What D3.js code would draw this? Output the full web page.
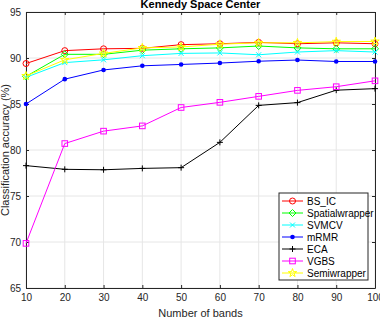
<!DOCTYPE html>
<html>
<head>
<meta charset="utf-8">
<script src="https://cdn.jsdelivr.net/npm/d3@7"></script>
<style>
  body { margin: 0; background: #fff; }
  svg { display: block; font-family: "Liberation Sans", Arial, sans-serif; }
</style>
</head>
<body>
<svg width="380" height="320"></svg>
<script>
    // bands on x axis
    const bands = [10, 20, 30, 40, 50, 60, 70, 80, 90, 100];

    const bsIC = [89.4, 90.8, 91.0, 91.05, 91.45, 91.55, 91.7, 91.55, 91.65, 91.55];
    const spatialwrapper = [88.0, 90.4, 90.4, 90.85, 91.0, 91.1, 91.3, 91.1, 91.0, 91.0];
    const svmcv = [87.9, 89.5, 89.8, 90.25, 90.5, 90.55, 90.35, 90.65, 90.8, 90.65];
    const mrmr = [85.0, 87.7, 88.7, 89.15, 89.3, 89.45, 89.65, 89.78, 89.62, 89.62];
    const eca = [78.3, 77.9, 77.85, 78.0, 78.08, 80.83, 84.85, 85.15, 86.5, 86.67];
    const vgbs = [69.85, 80.7, 82.05, 82.62, 84.62, 85.18, 85.83, 86.48, 86.88, 87.52];
    const semiwrapper = [88.05, 89.8, 90.5, 91.1, 91.2, 91.5, 91.65, 91.65, 91.78, 91.8];

    const xTicks = [10, 20, 30, 40, 50, 60, 70, 80, 90, 100];
    const yTicks = [65, 70, 75, 80, 85, 90, 95];

    const series = [
        { name: 'BS_IC', values: bsIC, color: '#ff0000', marker: 'circle' },
        { name: 'Spatialwrapper', values: spatialwrapper, color: '#00ff00', marker: 'diamond' },
        { name: 'SVMCV', values: svmcv, color: '#00ffff', marker: 'x' },
        { name: 'mRMR', values: mrmr, color: '#0000ff', marker: 'dot' },
        { name: 'ECA', values: eca, color: '#000000', marker: 'plus' },
        { name: 'VGBS', values: vgbs, color: '#ff00ff', marker: 'square' },
        { name: 'Semiwrapper', values: semiwrapper, color: '#ffff00', marker: 'star' }
    ];

    const margin = { top: 12, right: 5, bottom: 32, left: 26 };
    const width = 380, height = 320;

    const svg = d3.select('svg');

    const x = d3.scaleLinear().domain([10, 100]).range([margin.left, width - margin.right]);
    const y = d3.scaleLinear().domain([65, 95]).range([height - margin.bottom, margin.top]);

    // grid
    const grid = svg.append('g').attr('stroke', '#e6e6e6').attr('stroke-width', 1);
    grid.selectAll('.gx').data(xTicks).enter().append('line')
        .attr('x1', d => x(d)).attr('x2', d => x(d))
        .attr('y1', y(65)).attr('y2', y(95));
    grid.selectAll('.gy').data(yTicks).enter().append('line')
        .attr('x1', x(10)).attr('x2', x(100))
        .attr('y1', d => y(d)).attr('y2', d => y(d));

    // axes
    const axisColor = '#262626';
    const styleAxis = g => {
        g.select('.domain').attr('stroke', axisColor);
        g.selectAll('.tick line').attr('stroke', axisColor);
        g.selectAll('.tick text').attr('fill', '#262626').style('font-size', '10px');
    };

    svg.append('g')
        .attr('transform', 'translate(0,' + y(65) + ')')
        .call(d3.axisBottom(x).tickValues(xTicks).tickSize(-3).tickSizeOuter(0).tickPadding(6))
        .call(styleAxis);
    svg.append('g')
        .attr('transform', 'translate(0,' + y(95) + ')')
        .call(d3.axisTop(x).tickValues(xTicks).tickSize(-3).tickSizeOuter(0).tickFormat(''))
        .call(styleAxis);
    svg.append('g')
        .attr('transform', 'translate(' + x(10) + ',0)')
        .call(d3.axisLeft(y).tickValues(yTicks).tickSize(-3).tickSizeOuter(0).tickPadding(5))
        .call(styleAxis);
    svg.append('g')
        .attr('transform', 'translate(' + x(100) + ',0)')
        .call(d3.axisRight(y).tickValues(yTicks).tickSize(-3).tickSizeOuter(0).tickFormat(''))
        .call(styleAxis);

    const drawMarker = (g, type, color) => {
        if (type === 'circle') {
            g.append('circle').attr('r', 3).attr('fill', 'none').attr('stroke', color);
        } else if (type === 'diamond') {
            g.append('path').attr('d', 'M0,-3.5L3.5,0L0,3.5L-3.5,0Z').attr('fill', 'none').attr('stroke', color);
        } else if (type === 'x') {
            g.append('path').attr('d', 'M-2.5,-2.5L2.5,2.5M-2.5,2.5L2.5,-2.5').attr('stroke', color);
        } else if (type === 'dot') {
            g.append('circle').attr('r', 2.3).attr('fill', color);
        } else if (type === 'plus') {
            g.append('path').attr('d', 'M-3,0L3,0M0,-3L0,3').attr('stroke', color);
        } else if (type === 'square') {
            g.append('rect').attr('x', -2.8).attr('y', -2.8).attr('width', 5.6).attr('height', 5.6)
                .attr('fill', 'none').attr('stroke', color);
        } else if (type === 'star') {
            g.append('path').attr('d', d3.symbol(d3.symbolStar, 22)()).attr('fill', 'none').attr('stroke', color);
        }
    };

    const line = d3.line().x((d, i) => x(bands[i])).y(d => y(d));

    series.forEach(s => {
        svg.append('path')
            .attr('d', line(s.values))
            .attr('fill', 'none')
            .attr('stroke', s.color)
            .attr('stroke-width', 1);
        s.values.forEach((v, i) => {
            const g = svg.append('g').attr('transform', 'translate(' + x(bands[i]) + ',' + y(v) + ')');
            drawMarker(g, s.marker, s.color);
        });
    });

    // title and labels
    svg.append('text')
        .attr('x', (x(10) + x(100)) / 2)
        .attr('y', 8)
        .attr('text-anchor', 'middle')
        .style('font-size', '11px')
        .style('font-weight', 'bold')
        .attr('fill', '#000')
        .text('Kennedy Space Center');

    svg.append('text')
        .attr('x', (x(10) + x(100)) / 2)
        .attr('y', 317)
        .attr('text-anchor', 'middle')
        .style('font-size', '11px')
        .attr('fill', '#262626')
        .text('Number of bands');

    svg.append('text')
        .attr('transform', 'translate(9,' + (y(80)) + ') rotate(-90)')
        .attr('text-anchor', 'middle')
        .style('font-size', '11px')
        .attr('fill', '#262626')
        .text('Classification accuracy (%)');

    // legend
    const legend = svg.append('g').attr('transform', 'translate(279,193)');
    legend.append('rect')
        .attr('width', 89).attr('height', 87)
        .attr('fill', '#fff').attr('stroke', '#262626').attr('stroke-width', 1);
    series.forEach((s, i) => {
        const ly = 8 + i * 12;
        legend.append('line')
            .attr('x1', 3).attr('x2', 24).attr('y1', ly).attr('y2', ly)
            .attr('stroke', s.color);
        const g = legend.append('g').attr('transform', 'translate(13.5,' + ly + ')');
        drawMarker(g, s.marker, s.color);
        legend.append('text')
            .attr('x', 28).attr('y', ly + 3.5)
            .style('font-size', '10px')
            .attr('fill', '#000')
            .text(s.name);
    });
</script>
</body>
</html>
